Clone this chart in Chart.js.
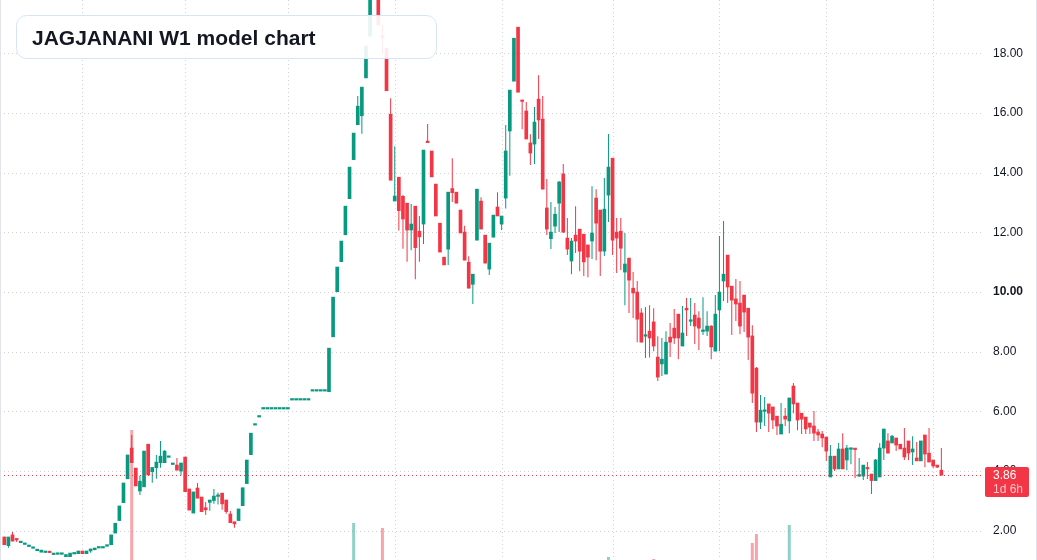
<!DOCTYPE html>
<html>
<head>
<meta charset="utf-8">
<title>JAGJANANI W1 model chart</title>
<script src="https://cdn.jsdelivr.net/npm/chart.js@4.4.1/dist/chart.umd.min.js"></script>
<style>
  html, body { margin: 0; padding: 0; background: #fff; }
  #wrap { width: 1037px; height: 560px; }
</style>
</head>
<body>
<div id="wrap"><canvas id="chart" width="1037" height="560"></canvas></div>
<script>
// weekly candles, oldest first
const opens = [
  1.79,1.50,1.86,1.74,1.60,1.54,1.47,1.41,1.33,1.28,
  1.27,1.27,1.20,1.21,1.21,1.13,1.13,1.22,1.23,1.32,
  1.23,1.32,1.36,1.42,1.42,1.48,1.53,1.92,2.34,2.94,
  3.74,4.77,4.10,3.33,3.47,4.90,3.98,4.11,4.28,4.28,
  4.46,4.22,4.20,4.00,4.47,3.40,2.59,3.43,3.13,2.77,
  2.95,3.01,3.15,3.26,3.03,2.56,2.30,2.34,2.84,3.58,
  4.55,5.54,5.81,6.08,6.08,6.08,6.08,6.08,6.08,6.08,
  6.38,6.38,6.38,6.38,6.38,6.68,6.68,6.68,6.68,6.66,
  8.50,10.01,11.02,11.92,13.13,14.44,15.61,15.91,17.18,18.58,
  20.30,20.40,18.55,18.17,15.96,13.05,13.85,13.21,12.98,12.08,
  12.88,12.04,12.28,15.02,14.73,13.62,12.31,11.17,11.44,13.47,
  13.35,12.75,12.01,11.00,10.26,11.74,13.05,11.91,10.77,11.84,
  12.85,12.28,13.15,15.40,17.07,18.88,16.40,16.07,15.00,14.96,
  16.47,15.80,12.82,11.79,12.21,12.98,13.96,11.81,11.04,11.91,
  12.11,11.94,11.58,11.71,13.15,12.75,11.37,13.25,14.49,12.01,
  12.04,10.67,11.14,10.13,10.00,9.30,8.52,8.69,9.00,7.82,
  7.59,7.25,8.49,8.79,9.26,8.19,9.46,9.02,9.23,9.13,
  8.68,8.69,8.86,8.02,9.40,10.37,11.24,10.20,9.77,9.63,
  9.90,9.46,8.53,7.45,5.64,6.00,6.25,6.15,5.84,5.24,
  5.84,5.68,6.85,6.28,5.94,5.81,5.61,5.51,5.31,5.24,
  5.14,3.80,4.50,4.07,4.74,4.37,4.73,4.73,3.83,3.83,
  4.10,3.90,3.68,3.80,4.77,5.01,4.94,5.11,4.90,4.77,
  5.01,4.64,4.44,4.34,5.21,4.60,4.37,4.20,4.03
];
const highs = [
  1.80,1.79,1.96,1.74,1.61,1.55,1.48,1.42,1.34,1.35,
  1.28,1.27,1.25,1.22,1.22,1.20,1.25,1.26,1.32,1.32,
  1.32,1.39,1.42,1.43,1.43,1.50,1.86,2.25,2.83,3.60,
  4.54,5.21,4.10,3.85,4.67,4.90,4.12,4.54,5.01,4.70,
  4.47,4.23,4.44,4.27,4.47,3.40,3.30,3.60,3.13,2.96,
  3.03,3.40,3.28,3.26,3.03,2.66,2.30,2.73,3.44,4.37,
  5.27,5.55,5.82,6.09,6.09,6.09,6.09,6.09,6.09,6.09,
  6.39,6.39,6.39,6.39,6.39,6.69,6.69,6.69,6.69,8.12,
  9.83,10.84,11.71,12.88,14.19,15.33,16.57,16.87,18.25,20.50,
  21.50,20.60,18.95,18.17,16.50,14.89,13.85,13.25,12.98,12.95,
  12.88,12.55,14.76,15.63,14.73,13.62,12.31,11.17,13.35,14.49,
  13.35,12.75,12.22,11.20,10.60,13.45,13.18,11.91,11.64,12.58,
  13.35,12.55,15.60,16.77,18.51,18.88,16.40,16.37,15.29,16.20,
  17.27,16.57,13.79,13.02,12.85,13.72,14.29,12.48,11.81,12.88,
  12.11,11.94,11.58,13.55,13.45,12.75,13.82,15.30,14.49,12.48,
  12.48,11.98,11.14,10.67,10.37,9.46,9.50,9.56,9.46,8.52,
  8.46,8.69,8.96,9.43,9.26,9.53,9.80,9.80,9.63,9.36,
  9.83,9.36,8.89,9.90,11.88,12.38,11.24,10.20,10.44,10.37,
  9.90,9.46,8.89,7.49,6.55,6.48,6.25,6.15,5.84,6.28,
  6.11,6.45,6.95,6.28,5.94,5.81,5.61,6.01,5.41,5.34,
  5.14,4.87,4.50,4.94,5.27,4.87,4.77,4.73,4.44,4.20,
  4.30,3.90,4.40,4.94,5.41,5.27,5.21,5.11,4.90,5.44,
  5.01,5.17,4.97,5.01,5.21,5.44,4.37,4.20,4.77
];
const lows = [
  1.53,1.43,1.65,1.62,1.60,1.54,1.47,1.41,1.33,1.28,
  1.27,1.265,1.20,1.21,1.21,1.13,1.13,1.22,1.23,1.23,
  1.23,1.26,1.36,1.42,1.42,1.48,1.53,1.92,2.34,2.94,
  3.74,4.28,3.50,3.20,3.47,3.87,3.61,3.74,4.11,4.28,
  4.46,4.22,4.03,3.87,3.31,2.69,2.59,3.09,2.64,2.53,
  2.67,2.90,2.88,2.70,2.57,2.27,2.10,2.34,2.84,3.58,
  4.55,5.54,5.81,6.08,6.08,6.08,6.08,6.08,6.08,6.08,
  6.38,6.38,6.38,6.38,6.38,6.68,6.68,6.68,6.68,6.66,
  8.50,10.01,11.02,11.92,13.13,14.44,15.61,15.31,17.18,18.58,
  20.00,18.95,18.00,16.75,13.75,13.05,12.06,11.45,11.02,11.40,
  10.43,11.02,11.61,15.01,13.86,12.55,11.34,10.91,10.91,13.02,
  12.98,11.98,11.07,10.13,9.60,11.74,12.11,10.97,10.57,11.84,
  12.55,12.08,12.80,13.90,17.07,16.70,15.46,15.13,14.26,14.29,
  15.13,13.45,11.91,11.44,11.98,12.01,11.98,11.24,10.60,11.31,
  10.70,10.54,10.50,11.11,11.07,10.54,11.21,12.35,11.24,10.64,
  10.74,9.56,9.30,9.13,8.32,8.32,7.79,7.81,8.02,7.02,
  7.19,7.25,7.82,8.26,7.75,8.19,8.53,8.86,8.26,8.06,
  8.56,8.53,7.75,8.02,8.02,9.70,9.63,8.56,9.03,8.59,
  8.66,7.72,6.28,5.31,5.41,5.51,5.31,5.41,5.21,5.24,
  5.51,5.27,5.94,5.37,5.24,5.24,5.24,5.01,5.01,4.80,
  4.34,3.80,4.00,4.07,4.07,4.03,4.23,3.77,3.80,3.70,
  3.73,3.23,3.68,3.80,4.37,4.60,4.94,4.67,4.74,4.37,
  4.37,4.20,4.34,4.34,4.13,4.30,4.10,4.10,3.86
];
const closes = [
  1.53,1.79,1.65,1.69,1.61,1.55,1.48,1.42,1.34,1.35,
  1.28,1.265,1.25,1.22,1.22,1.20,1.25,1.26,1.32,1.23,
  1.32,1.39,1.42,1.43,1.43,1.50,1.86,2.25,2.83,3.60,
  4.54,4.28,3.50,3.66,4.67,3.87,4.12,4.30,4.50,4.67,
  4.47,4.23,4.03,4.27,3.31,2.69,3.30,3.09,2.64,2.70,
  3.03,3.16,3.16,2.90,2.64,2.27,2.23,2.73,3.44,4.37,
  5.27,5.55,5.82,6.09,6.09,6.09,6.09,6.09,6.09,6.09,
  6.39,6.39,6.39,6.39,6.39,6.69,6.69,6.69,6.69,8.12,
  9.83,10.84,11.71,12.88,14.19,15.33,16.23,16.87,18.25,20.20,
  21.00,18.95,18.54,16.75,13.75,13.22,12.73,12.45,12.08,12.28,
  11.49,11.85,14.76,15.01,13.86,12.55,11.34,10.91,13.35,13.33,
  12.98,11.98,11.07,10.13,10.60,13.45,12.11,10.97,11.64,12.58,
  12.55,12.55,14.73,16.77,18.51,16.70,16.39,15.13,14.66,15.70,
  15.77,13.45,12.11,12.01,12.61,13.69,12.01,11.44,11.71,11.71,
  11.37,11.01,11.17,11.98,12.31,11.37,12.78,14.19,11.74,11.81,
  11.47,10.94,10.40,9.97,9.09,8.32,8.53,8.46,8.19,7.15,
  7.75,8.32,8.32,8.46,8.46,8.63,9.40,9.03,8.86,8.79,
  8.69,8.86,8.16,9.26,10.00,10.60,10.17,9.73,9.60,8.86,
  9.33,8.49,6.61,5.64,6.04,6.01,5.94,5.71,5.51,5.57,
  5.74,6.45,6.25,5.71,5.74,5.41,5.47,5.27,5.21,5.11,
  4.67,4.50,4.07,4.74,4.07,4.77,4.77,4.72,3.84,4.20,
  4.07,3.68,4.37,4.77,5.41,4.60,5.17,4.87,4.74,4.47,
  4.60,4.74,4.34,5.01,4.57,4.30,4.17,4.13,3.86
];
// volume, only the spikes show at this scale
const volumes = [
  0,0,0,0,0,0,0,0,0,0,
  0,0,0,0,0,0,0,0,0,0,
  0,0,0,0,0,0,0,0,0,0,
  0,1300,0,0,0,0,0,0,0,0,
  0,0,0,0,0,0,0,0,0,0,
  0,0,0,0,0,0,0,0,0,0,
  0,0,0,0,0,0,0,0,0,0,
  0,0,0,0,0,0,0,0,0,0,
  0,0,0,0,0,370,0,0,0,0,
  0,0,320,0,0,0,0,0,0,0,
  0,0,0,0,0,0,0,0,0,0,
  0,0,0,0,0,0,0,0,0,0,
  0,0,0,0,0,0,0,0,0,0,
  0,0,0,0,0,0,0,0,0,0,
  0,0,0,0,0,0,0,30,0,0,
  0,0,0,0,0,0,0,0,10,0,
  0,0,0,0,0,0,0,0,0,0,
  0,0,0,0,0,0,0,0,0,0,
  0,0,170,260,0,0,0,0,0,0,
  0,350,0,0,0,0,0,0,0,0,
  0,0,0,0,0,0,0,0,0,0,
  0,0,0,0,0,0,0,0,0,0,
  0,0,0,0,0,0,0,0,0
];
// vertical grid lines (week index of each time tick)
const gridWeeks = [19, 44, 69, 95, 121, 148, 174, 200, 226];
const chartTitle = "JAGJANANI W1 model chart";
const countdown = "1d 6h";

const UP = "#089981";
const DOWN = "#f23645";
const UP_VOL = "rgba(8,153,129,0.45)";
const DOWN_VOL = "rgba(242,54,69,0.45)";
const GRID = "#cfd2d8";

Chart.defaults.font.family = "'Liberation Sans', Arial, sans-serif";

const up = opens.map((o, i) => closes[i] >= o);
const last = closes.length - 1;

const overlay = {
  id: "overlay",
  beforeDatasetsDraw(chart) {
    const { ctx, chartArea: a, scales: { x, y } } = chart;
    ctx.save();
    ctx.strokeStyle = GRID;
    ctx.lineWidth = 1;
    ctx.setLineDash([1, 3]);
    ctx.beginPath();
    y.ticks.forEach(t => {
      const py = Math.round(y.getPixelForValue(t.value)) + 0.5;
      ctx.moveTo(a.left, py);
      ctx.lineTo(a.right, py);
    });
    gridWeeks.forEach(w => {
      const px = Math.round(x.getPixelForValue(w)) + 0.5;
      ctx.moveTo(px, a.top);
      ctx.lineTo(px, a.bottom);
    });
    ctx.stroke();
    ctx.restore();
  },
  afterDatasetsDraw(chart) {
    const { ctx, chartArea: a, scales: { y } } = chart;
    const py = Math.round(y.getPixelForValue(closes[last])) + 0.5;
    ctx.save();
    ctx.strokeStyle = up[last] ? UP : DOWN;
    ctx.lineWidth = 1;
    ctx.setLineDash([1, 3]);
    ctx.beginPath();
    ctx.moveTo(a.left, py);
    ctx.lineTo(a.right, py);
    ctx.stroke();
    ctx.restore();
  },
  afterDraw(chart) {
    const { ctx, chartArea: a, scales: { y }, width, height } = chart;
    ctx.save();
    // side borders
    ctx.fillStyle = "#e0e3eb";
    ctx.fillRect(0, 0, 1, height);
    ctx.fillRect(width - 1, 0, 1, height);

    // last price tag
    const py = y.getPixelForValue(closes[last]);
    ctx.fillStyle = up[last] ? UP : DOWN;
    ctx.beginPath();
    ctx.roundRect(a.right + 2, Math.round(py) - 8, 44, 30, 2);
    ctx.fill();
    ctx.font = "12px 'Liberation Sans', Arial, sans-serif";
    ctx.textBaseline = "middle";
    ctx.textAlign = "left";
    ctx.fillStyle = "#ffffff";
    ctx.fillText(closes[last].toFixed(2), a.right + 10, py);
    ctx.fillStyle = "rgba(255,255,255,0.72)";
    ctx.fillText(countdown, a.right + 10, py + 14);

    // title card
    ctx.beginPath();
    ctx.roundRect(16.5, 15.5, 420, 43, 10);
    ctx.fillStyle = "rgba(255,255,255,0.9)";
    ctx.fill();
    ctx.strokeStyle = "#d6e4f8";
    ctx.lineWidth = 1;
    ctx.stroke();
    ctx.fillStyle = "#131722";
    ctx.font = "bold 21px 'Liberation Sans', Arial, sans-serif";
    ctx.textBaseline = "alphabetic";
    ctx.fillText(chartTitle, 32, 45);
    ctx.restore();
  }
};

const idx = opens.map((_, i) => i);

new Chart(document.getElementById("chart"), {
  type: "bar",
  data: {
    datasets: [
      {
        label: "bodies",
        data: idx.map(i => ({ x: i, y: [opens[i], closes[i]] })),
        backgroundColor: idx.map(i => up[i] ? UP : DOWN),
        barThickness: 3,
        minBarLength: 1.5,
        grouped: false,
        order: 1
      },
      {
        label: "wicks",
        data: idx.map(i => ({ x: i, y: [lows[i], highs[i]] })),
        backgroundColor: idx.map(i => up[i] ? UP : DOWN),
        barThickness: 1,
        minBarLength: 1,
        inflateAmount: 0,
        grouped: false,
        order: 2
      },
      {
        label: "volume",
        data: idx.map(i => ({ x: i, y: volumes[i] })),
        backgroundColor: idx.map(i => up[i] ? UP_VOL : DOWN_VOL),
        barThickness: 3,
        inflateAmount: 0,
        grouped: false,
        yAxisID: "vol",
        order: 3
      }
    ]
  },
  options: {
    responsive: false,
    animation: false,
    devicePixelRatio: 1,
    layout: { padding: 0 },
    plugins: { legend: { display: false }, tooltip: { enabled: false } },
    scales: {
      x: {
        type: "linear",
        display: false,
        offset: false,
        bounds: "ticks",
        min: -1.046,
        max: 238.13,
        ticks: { includeBounds: true }
      },
      y: {
        position: "right",
        min: 1.018,
        max: 19.791,
        grid: { display: false, drawTicks: false },
        border: { display: false },
        ticks: {
          stepSize: 2,
          includeBounds: false,
          padding: 10,
          color: "#131722",
          font: c => ({ size: 12, weight: c.tick && c.tick.value === 10 ? "bold" : "normal" }),
          callback: v => v.toFixed(2)
        },
        afterFit: s => { s.width = 54; s.paddingTop = 0; s.paddingBottom = 0; }
      },
      vol: {
        display: false,
        min: 0,
        max: 5600
      }
    }
  },
  plugins: [overlay]
});
</script>
</body>
</html>
